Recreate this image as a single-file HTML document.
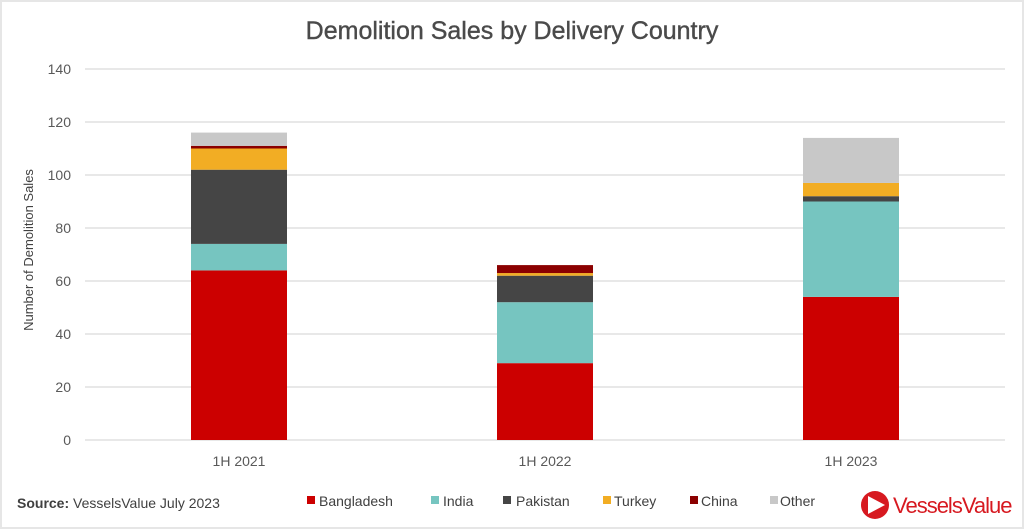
<!DOCTYPE html>
<html><head><style>
body{margin:0;background:#fff;}
svg{display:block;font-family:"Liberation Sans",sans-serif;}
</style></head><body>
<svg width="1024" height="529" viewBox="0 0 1024 529">
<rect x="1" y="1" width="1022" height="527" fill="#fff" stroke="#e6e6e6" stroke-width="2"/>
<text x="512" y="39" text-anchor="middle" font-size="25" fill="#4a4a4a" stroke="#4a4a4a" stroke-width="0.4">Demolition Sales by Delivery Country</text>
<g stroke="#d9d9d9" stroke-width="1.3">
<line x1="85" x2="1005" y1="69" y2="69"/><line x1="85" x2="1005" y1="122" y2="122"/>
<line x1="85" x2="1005" y1="175" y2="175"/><line x1="85" x2="1005" y1="228" y2="228"/>
<line x1="85" x2="1005" y1="281" y2="281"/><line x1="85" x2="1005" y1="334" y2="334"/>
<line x1="85" x2="1005" y1="387" y2="387"/><line x1="85" x2="1005" y1="440" y2="440"/>
</g>
<g font-size="14" fill="#595959" text-anchor="end">
<text x="71" y="74">140</text><text x="71" y="127">120</text><text x="71" y="180">100</text>
<text x="71" y="233">80</text><text x="71" y="286">60</text><text x="71" y="339">40</text>
<text x="71" y="392">20</text><text x="71" y="445">0</text>
</g>
<text transform="translate(33,250) rotate(-90)" text-anchor="middle" font-size="13" fill="#404040">Number of Demolition Sales</text>
<rect x="191" y="270.4" width="96" height="169.6" fill="#cc0000"/>
<rect x="191" y="243.9" width="96" height="26.5" fill="#76c5c0"/>
<rect x="191" y="169.7" width="96" height="74.2" fill="#454545"/>
<rect x="191" y="148.5" width="96" height="21.2" fill="#f2ad24"/>
<rect x="191" y="145.85" width="96" height="2.65" fill="#8b0000"/>
<rect x="191" y="132.6" width="96" height="13.25" fill="#c8c8c8"/>
<rect x="497" y="363.15" width="96" height="76.85" fill="#cc0000"/>
<rect x="497" y="302.2" width="96" height="60.95" fill="#76c5c0"/>
<rect x="497" y="275.7" width="96" height="26.5" fill="#454545"/>
<rect x="497" y="273.05" width="96" height="2.65" fill="#f2ad24"/>
<rect x="497" y="265.1" width="96" height="7.95" fill="#8b0000"/>
<rect x="803" y="296.9" width="96" height="143.1" fill="#cc0000"/>
<rect x="803" y="201.5" width="96" height="95.4" fill="#76c5c0"/>
<rect x="803" y="196.2" width="96" height="5.3" fill="#454545"/>
<rect x="803" y="182.95" width="96" height="13.25" fill="#f2ad24"/>
<rect x="803" y="137.9" width="96" height="45.05" fill="#c8c8c8"/>
<g font-size="14" fill="#595959" text-anchor="middle">
<text x="239" y="466">1H 2021</text><text x="545" y="466">1H 2022</text><text x="851" y="466">1H 2023</text>
</g>
<text x="17" y="508" font-size="14" fill="#404040"><tspan font-weight="bold">Source:</tspan> VesselsValue July 2023</text>
<g font-size="14" fill="#404040">
<rect x="307" y="496" width="8" height="8" fill="#cc0000"/><text x="319" y="506">Bangladesh</text>
<rect x="431" y="496" width="8" height="8" fill="#76c5c0"/><text x="443" y="506">India</text>
<rect x="503" y="496" width="8" height="8" fill="#454545"/><text x="516" y="506">Pakistan</text>
<rect x="603" y="496" width="8" height="8" fill="#f2ad24"/><text x="614" y="506">Turkey</text>
<rect x="690" y="496" width="8" height="8" fill="#8b0000"/><text x="701" y="506">China</text>
<rect x="770" y="496" width="8" height="8" fill="#c8c8c8"/><text x="780" y="506">Other</text>
</g>
<circle cx="875" cy="505" r="14" fill="#d71920"/>
<polygon points="868,496 885,505 868,514" fill="#fff"/>
<text x="893" y="513" font-size="22" fill="#d71920" letter-spacing="-1">VesselsValue</text>
</svg>
</body></html>
